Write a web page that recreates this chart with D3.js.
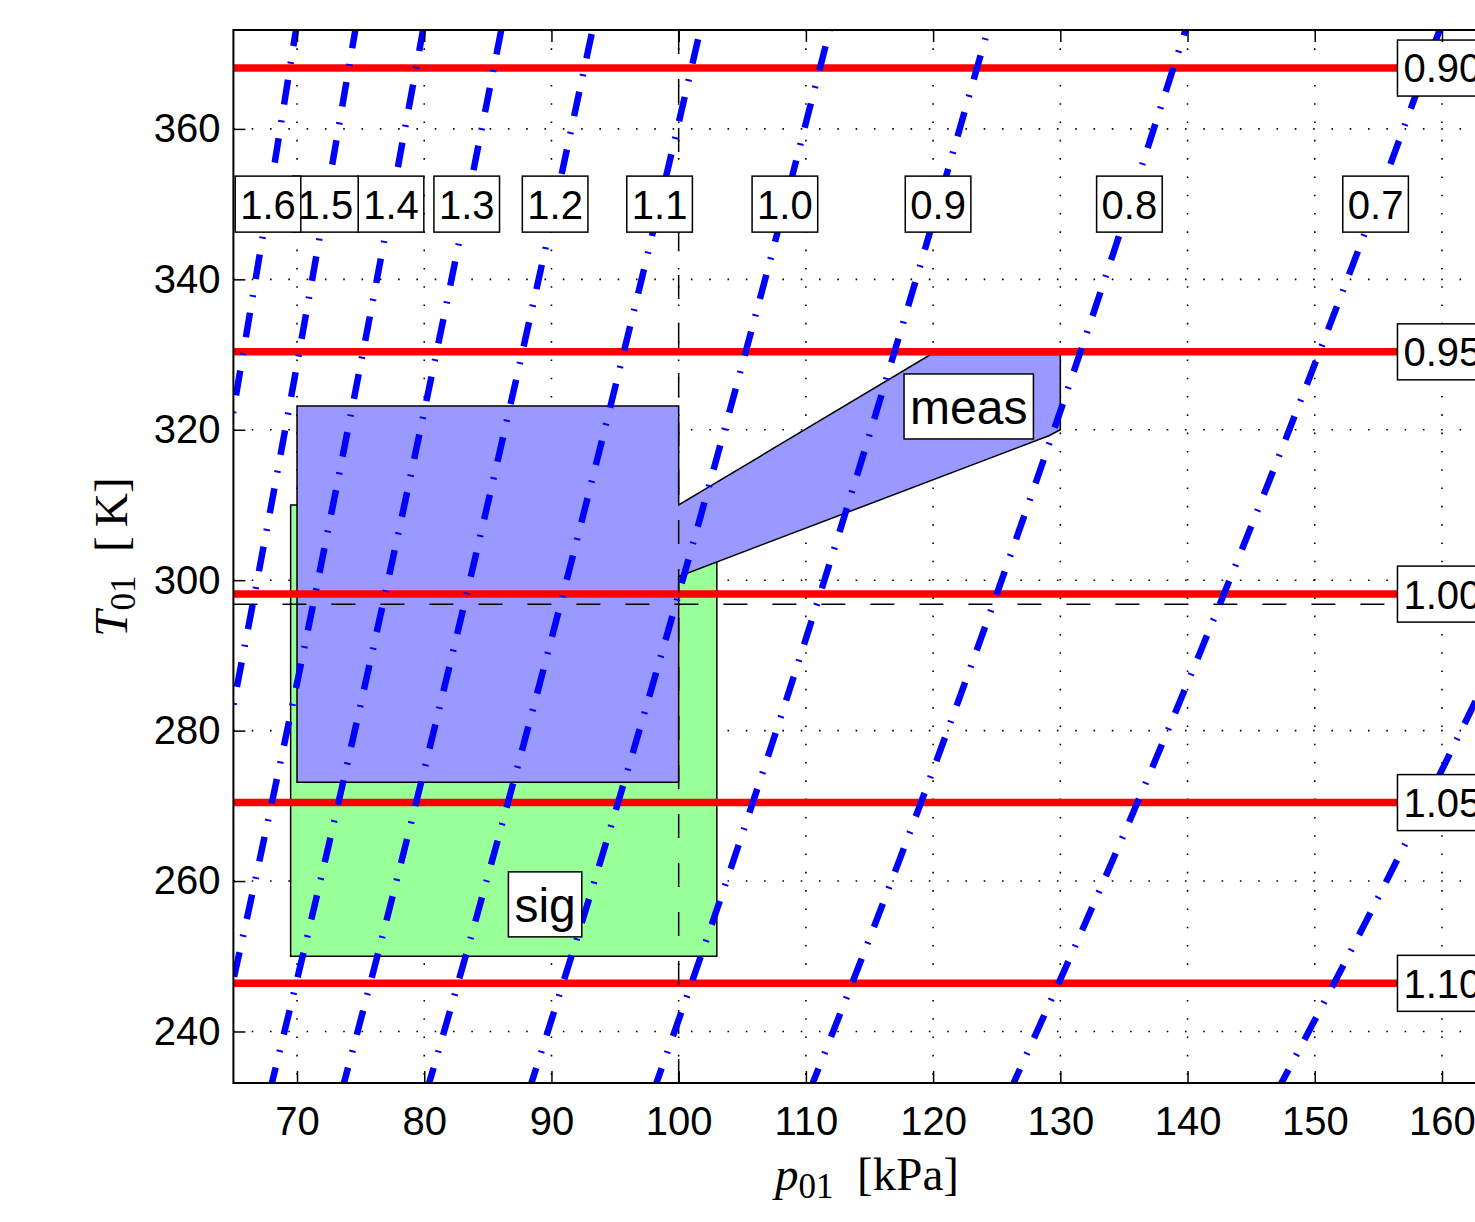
<!DOCTYPE html>
<html>
<head>
<meta charset="utf-8">
<script src="https://cdn.jsdelivr.net/npm/d3@7"></script>
<style>
  body { margin: 0; background: #fff; }
  svg { display: block; }
</style>
</head>
<body>
<svg id="chart" width="1475" height="1222"></svg>
<script>
// axis ticks
const xTicks = [70, 80, 90, 100, 110, 120, 130, 140, 150, 160];
const yTicks = [240, 260, 280, 300, 320, 340, 360];

// constant corrected speed lines (red)
const speedLabels = ['0.90', '0.95', '1.00', '1.05', '1.10'];
const speedT = [368.09, 330.36, 298.15, 270.43, 246.40];
const speedLabelP = 156.5;

// constant corrected flow lines (blue), p01 read at these T01 levels
const flowLabels = ['1.6', '1.5', '1.4', '1.3', '1.2', '1.1', '1.0', '0.9', '0.8', '0.7', '0.6'];
const flowT = [232, 250, 270, 290, 310, 330, 350, 375];
const flowP = [
  [55.13, 57.23, 59.48, 61.64, 63.73, 65.75, 67.72, 70.09],
  [58.81, 61.05, 63.44, 65.75, 67.98, 70.14, 72.23, 74.77],
  [63.01, 65.41, 67.97, 70.45, 72.83, 75.15, 77.39, 80.11],
  [67.86, 70.44, 73.20, 75.86, 78.44, 80.93, 83.34, 86.27],
  [73.51, 76.31, 79.30, 82.19, 84.97, 87.67, 90.29, 93.46],
  [80.19, 83.25, 86.51, 89.66, 92.70, 95.64, 98.50, 101.95],
  [88.21, 91.57, 95.16, 98.62, 101.97, 105.21, 108.35, 112.15],
  [98.01, 101.74, 105.74, 109.58, 113.30, 116.90, 120.39, 124.61],
  [110.27, 114.46, 118.95, 123.28, 127.46, 131.51, 135.43, 140.19],
  [126.02, 130.81, 135.95, 140.89, 145.67, 150.29, 154.78, 160.21],
  [147.02, 152.62, 158.60, 164.37, 169.95, 175.34, 180.58, 186.92]
];
const flowLabelT = 350; // labels sit on the lines at this T01 (index 6 above)

// regions
const sigP = [69.5, 103, 103, 69.5];
const sigT = [250, 250, 310, 310];
const measP = [70, 100, 100, 119.8, 130, 130, 129.1, 100, 100, 70];
const measT = [323.15, 323.15, 310, 330, 330, 320, 319.2, 300.5, 273.15, 273.15];
const regionLabels = ['sig', 'meas'];
const regionLabelP = [89.5, 122.8];
const regionLabelT = [256.9, 323.1];

// reference (design) point
const refP = 100;
const refT = 296.8;

const svg = d3.select('#chart');
const x = d3.scaleLinear().domain([65, 165]).range([233.4, 1505.6]);
const y = d3.scaleLinear().domain([233.15, 373.15]).range([1083, 30]);
const x0 = x(65), x1 = x(165), yTop = y(373.15), yBot = y(233.15);
const sans = '"Liberation Sans", Arial, sans-serif';
const serif = '"Liberation Serif", "Times New Roman", serif';

svg.append('clipPath').attr('id', 'plotclip')
  .append('rect').attr('x', x0).attr('y', yTop).attr('width', x1 - x0).attr('height', yBot - yTop);

const plot = svg.append('g').attr('clip-path', 'url(#plotclip)');

// grid
plot.selectAll('.gx').data(xTicks).enter().append('line')
  .attr('x1', d => x(d)).attr('x2', d => x(d)).attr('y1', yTop).attr('y2', yBot)
  .attr('stroke', '#000').attr('stroke-width', 1.6).attr('stroke-dasharray', '1.6,16.7');
plot.selectAll('.gy').data(yTicks).enter().append('line')
  .attr('y1', d => y(d)).attr('y2', d => y(d)).attr('x1', x0).attr('x2', x1)
  .attr('stroke', '#000').attr('stroke-width', 1.6).attr('stroke-dasharray', '1.6,16.7');

// regions
const poly = (ps, ts) => ps.map((p, i) => x(p) + ',' + y(ts[i])).join(' ');
plot.append('polygon').attr('points', poly(sigP, sigT))
  .attr('fill', '#99ff99').attr('stroke', '#000').attr('stroke-width', 1.5);
plot.append('polygon').attr('points', poly(measP, measT))
  .attr('fill', '#9999ff').attr('stroke', '#000').attr('stroke-width', 1.5);

// speed lines
plot.selectAll('.speed').data(speedT).enter().append('line')
  .attr('x1', x0).attr('x2', x1).attr('y1', d => y(d)).attr('y2', d => y(d))
  .attr('stroke', '#ff0000').attr('stroke-width', 7.5);

// reference dashed lines
plot.append('line').attr('x1', x(refP)).attr('x2', x(refP)).attr('y1', yTop).attr('y2', yBot)
  .attr('stroke', '#000').attr('stroke-width', 1.5).attr('stroke-dasharray', '24,25');
plot.append('line').attr('x1', x0).attr('x2', x1).attr('y1', y(refT)).attr('y2', y(refT))
  .attr('stroke', '#000').attr('stroke-width', 1.5).attr('stroke-dasharray', '24,25');

// flow lines
const flowLine = d3.line().x(d => x(d[0])).y(d => y(d[1])).curve(d3.curveNatural);
plot.selectAll('.flow').data(flowP).enter().append('path')
  .attr('d', row => flowLine(row.map((p, j) => [p, flowT[j]])))
  .attr('fill', 'none').attr('stroke', '#0000ff').attr('stroke-width', 6.5)
  .attr('stroke-dasharray', '25,16,2,16');

// boxed text helper
function boxText(g, cx, cy, txt, fs, padX, h, anchor) {
  const grp = g.append('g');
  const r = grp.append('rect');
  const t = grp.append('text').text(txt)
    .attr('font-family', sans).attr('font-size', fs).attr('fill', '#000');
  const w = t.node().getComputedTextLength() + 2 * padX;
  const left = anchor === 'start' ? cx : cx - w / 2;
  r.attr('x', left).attr('y', cy - h / 2).attr('width', w).attr('height', h)
    .attr('fill', '#fff').attr('stroke', '#000').attr('stroke-width', 1.5);
  t.attr('x', left + padX).attr('y', cy + 0.36 * fs);
}

// flow labels that fall inside the axes, drawn so that 1.6 ends on top
const labelLayer = svg.append('g');
for (let i = flowLabels.length - 1; i >= 0; i--) {
  if (x(flowP[i][6]) > 1475) continue;
  boxText(labelLayer, x(flowP[i][6]), y(flowLabelT), flowLabels[i], 40, 5, 56, 'middle');
}
regionLabels.forEach((s, i) => {
  boxText(labelLayer, x(regionLabelP[i]), y(regionLabelT[i]), s, 48, 6, 65, 'middle');
});
speedLabels.forEach((s, i) => {
  boxText(labelLayer, x(speedLabelP), y(speedT[i]), s, 40, 6, 56, 'start');
});

// axes
const axes = svg.append('g').attr('font-family', sans);
const styleAxis = g => {
  g.select('.domain').remove();
  g.selectAll('.tick line').attr('stroke', '#000').attr('stroke-width', 1.5);
  g.selectAll('.tick text').attr('font-family', sans).attr('font-size', 40).attr('fill', '#000');
};
axes.append('g').attr('transform', `translate(0,${yBot})`)
  .call(d3.axisBottom(x).tickValues(xTicks).tickSize(-12).tickSizeOuter(0).tickPadding(24))
  .call(styleAxis);
axes.append('g').attr('transform', `translate(0,${yTop})`)
  .call(d3.axisTop(x).tickValues(xTicks).tickSize(-12).tickSizeOuter(0).tickFormat(''))
  .call(styleAxis);
axes.append('g').attr('transform', `translate(${x0},0)`)
  .call(d3.axisLeft(y).tickValues(yTicks).tickSize(-12).tickSizeOuter(0).tickPadding(13))
  .call(styleAxis);
axes.append('g').attr('transform', `translate(${x1},0)`)
  .call(d3.axisRight(y).tickValues(yTicks).tickSize(-12).tickSizeOuter(0).tickFormat(''))
  .call(styleAxis);

svg.append('rect').attr('x', x0).attr('y', yTop).attr('width', x1 - x0).attr('height', yBot - yTop)
  .attr('fill', 'none').attr('stroke', '#000').attr('stroke-width', 2);

// axis titles
const xl = svg.append('text').attr('x', 867).attr('y', 1190).attr('text-anchor', 'middle')
  .attr('font-family', serif).attr('font-size', 47).attr('fill', '#000');
xl.append('tspan').attr('font-style', 'italic').text('p');
xl.append('tspan').attr('font-size', 35).attr('dy', 8).text('01');
xl.append('tspan').attr('dy', -8).text('\u2002[kPa]');

const yl = svg.append('text').attr('transform', 'translate(127,557) rotate(-90)')
  .attr('text-anchor', 'middle')
  .attr('font-family', serif).attr('font-size', 47).attr('fill', '#000');
yl.append('tspan').attr('font-style', 'italic').text('T');
yl.append('tspan').attr('font-size', 35).attr('dy', 8).text('01');
yl.append('tspan').attr('dy', -8).text('\u2002[\u2009K]');
</script>
</body>
</html>
